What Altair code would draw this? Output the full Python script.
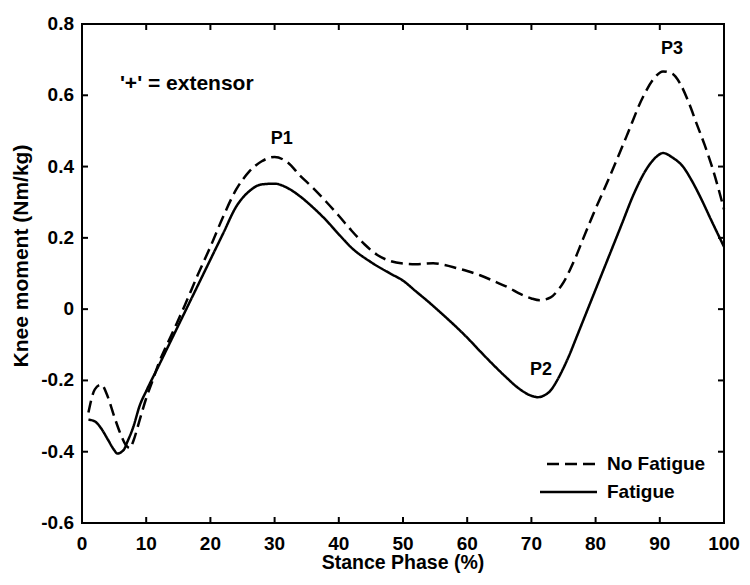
import altair as alt
import pandas as pd

# ---- data ----
nf_x = [1, 2, 3, 4, 5, 6, 7, 7.5, 8, 9, 10, 11, 12, 14, 16, 18, 20, 22, 24, 26, 28, 30, 32, 34, 36,
        38, 40, 42, 44, 46, 48, 50, 52, 54.7, 56.5, 58.4, 60, 62, 64, 66.7, 68, 70, 71.3, 73, 74,
        75, 76, 77, 78, 79.6, 82.2, 84.8, 87.4, 89, 90.5, 92, 93.1, 94.5, 95.7, 97, 98.3, 100]
nf_y = [-0.29, -0.225, -0.212, -0.245, -0.30, -0.35, -0.385, -0.39, -0.37, -0.31, -0.25, -0.20,
        -0.15, -0.07, 0.01, 0.095, 0.175, 0.26, 0.335, 0.385, 0.415, 0.427, 0.412, 0.374, 0.34,
        0.302, 0.262, 0.22, 0.182, 0.152, 0.135, 0.128, 0.126, 0.129, 0.124, 0.115, 0.107, 0.095,
        0.08, 0.058, 0.045, 0.03, 0.025, 0.033, 0.05, 0.075, 0.11, 0.15, 0.195, 0.265, 0.372, 0.484,
        0.596, 0.645, 0.667, 0.66, 0.635, 0.58, 0.522, 0.46, 0.39, 0.28]

f_x = [1, 2, 3, 4, 5, 5.5, 6.5, 7, 8, 9, 10, 12, 14, 16, 18, 20, 22, 24, 26, 28, 30, 32, 34, 36, 38,
       40, 42, 45, 48, 50, 52, 54, 56, 58, 60, 62, 64, 66, 68, 70, 71, 72, 73, 74, 75, 76, 77, 78,
       80, 82, 84, 86, 88, 89.5, 90.5, 92, 93.6, 95, 96.3, 98, 100]
f_y = [-0.31, -0.315, -0.335, -0.365, -0.395, -0.405, -0.395, -0.375, -0.33, -0.27, -0.23, -0.157,
       -0.083, -0.009, 0.065, 0.139, 0.213, 0.287, 0.33, 0.35, 0.352, 0.34, 0.316, 0.285, 0.25,
       0.21, 0.172, 0.132, 0.10, 0.08, 0.05, 0.02, -0.012, -0.045, -0.08, -0.118, -0.155, -0.19,
       -0.222, -0.243, -0.247, -0.242, -0.228, -0.20, -0.165, -0.125, -0.08, -0.035, 0.055, 0.145,
       0.235, 0.325, 0.395, 0.428, 0.438, 0.425, 0.40, 0.36, 0.315, 0.25, 0.175]

series_names = ["No Fatigue", "Fatigue"]

peak_text = ["P1", "P2", "P3"]
peak_x = [31.1, 71.5, 91.9]
peak_y = [0.478, -0.17, 0.73]

note_text = ["'+' = extensor"]
note_x = [5.9]
note_y = [0.633]

x_ticks = list(range(0, 101, 10))
y_ticks = [-0.6, -0.4, -0.2, 0, 0.2, 0.4, 0.6, 0.8]
x_tick_labels = [str(v) for v in x_ticks]
y_tick_labels = ["0" if v == 0 else f"{v:.1f}" for v in y_ticks]

X_TITLE = "Stance Phase (%)"
Y_TITLE = "Knee moment (Nm/kg)"

# ---- build ----
W, H = 642, 499
TICK = 6
LW = 2
FONT = "Liberation Sans"
DASH = [12, 6]

df = pd.concat([
    pd.DataFrame({"x": nf_x, "y": nf_y, "series": series_names[0]}),
    pd.DataFrame({"x": f_x, "y": f_y, "series": series_names[1]}),
])
peaks = pd.DataFrame({"x": peak_x, "y": peak_y, "t": peak_text})
notes = pd.DataFrame({"x": note_x, "y": note_y, "t": note_text})
xt = pd.DataFrame({"x": x_ticks[1:-1]})
yt = pd.DataFrame({"y": y_ticks[1:-1]})
xl = pd.DataFrame({"x": x_ticks, "t": x_tick_labels})
yl = pd.DataFrame({"y": y_ticks, "t": y_tick_labels})
xtitle = pd.DataFrame({"t": [X_TITLE]})
ytitle = pd.DataFrame({"t": [Y_TITLE]})
leg_nf = pd.DataFrame({"t": [series_names[0]]})
leg_f = pd.DataFrame({"t": [series_names[1]]})

xs = alt.Scale(domain=[0, 100], nice=False, zero=False)
ys = alt.Scale(domain=[-0.6, 0.8], nice=False, zero=False)


def X():
    return alt.X("x:Q", scale=xs, axis=None)


def Y():
    return alt.Y("y:Q", scale=ys, axis=None)


txt = dict(font=FONT, fontWeight="bold", color="black")

lines = alt.Chart(df).mark_line(color="black", strokeWidth=2.5, interpolate="monotone").encode(
    x=X(),
    y=Y(),
    strokeDash=alt.StrokeDash(
        "series:N",
        scale=alt.Scale(domain=series_names, range=[DASH, [1, 0]]),
        legend=None,
    ),
)

tick_style = dict(color="black", strokeWidth=LW)

ticks_bottom = alt.Chart(xt).mark_rule(**tick_style).encode(
    x=X(), y=alt.value(H), y2=alt.value(H - TICK))
ticks_top = alt.Chart(xt).mark_rule(**tick_style).encode(
    x=X(), y=alt.value(0), y2=alt.value(TICK))
ticks_left = alt.Chart(yt).mark_rule(**tick_style).encode(
    y=Y(), x=alt.value(0), x2=alt.value(TICK))
ticks_right = alt.Chart(yt).mark_rule(**tick_style).encode(
    y=Y(), x=alt.value(W), x2=alt.value(W - TICK))

x_labels = alt.Chart(xl).mark_text(fontSize=19, baseline="top", **txt).encode(
    x=X(), y=alt.value(H + 12), text="t:N")
y_labels = alt.Chart(yl).mark_text(fontSize=19, align="right", baseline="middle", **txt).encode(
    y=Y(), x=alt.value(-8), text="t:N")
x_title = alt.Chart(xtitle).mark_text(fontSize=19.5, baseline="alphabetic", **txt).encode(
    x=alt.value(W / 2), y=alt.value(H + 46), text="t:N")
y_title = alt.Chart(ytitle).mark_text(fontSize=21, angle=270, baseline="middle", **txt).encode(
    x=alt.value(-60), y=alt.value(232), text="t:N")

# legend (bottom right, inside the plot)
leg_line_nf = alt.Chart(leg_nf).mark_rule(color="black", strokeWidth=2.5, strokeDash=DASH).encode(
    x=alt.value(465), x2=alt.value(515), y=alt.value(440))
leg_line_f = alt.Chart(leg_f).mark_rule(color="black", strokeWidth=2.5).encode(
    x=alt.value(458), x2=alt.value(515), y=alt.value(468))
leg_text_nf = alt.Chart(leg_nf).mark_text(fontSize=19, align="left", baseline="middle",
                                          **txt).encode(x=alt.value(525), y=alt.value(440),
                                                        text="t:N")
leg_text_f = alt.Chart(leg_f).mark_text(fontSize=19, align="left", baseline="middle",
                                        **txt).encode(x=alt.value(525), y=alt.value(468),
                                                      text="t:N")

peak_layer = alt.Chart(peaks).mark_text(fontSize=18, **txt).encode(x=X(), y=Y(), text="t:N")
note_layer = alt.Chart(notes).mark_text(fontSize=21, align="left", **txt).encode(
    x=X(), y=Y(), text="t:N")

chart = alt.layer(
    lines, ticks_bottom, ticks_top, ticks_left, ticks_right,
    x_labels, y_labels, x_title, y_title,
    leg_line_nf, leg_line_f, leg_text_nf, leg_text_f,
    peak_layer, note_layer
).properties(
    width=W, height=H,
    autosize=alt.AutoSizeParams(type="none"),
    padding={"left": 74, "top": 16, "right": 18, "bottom": 52},
    background="white",
).configure_view(
    stroke="black", strokeWidth=LW
)

chart.save("out.html", embed_options={"renderer": "svg", "actions": False})
